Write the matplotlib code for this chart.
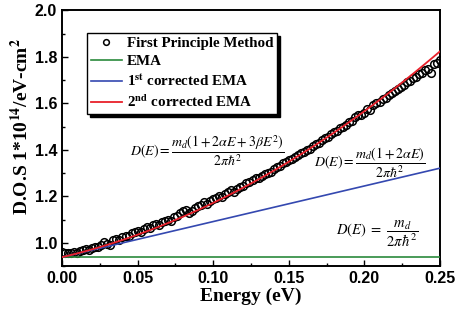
import matplotlib
matplotlib.use("Agg")
import matplotlib.pyplot as plt
import numpy as np
from matplotlib.ticker import MultipleLocator

plt.rcParams['mathtext.fontset'] = 'stix'

# Model parameters
md0 = 0.938      # EMA constant level
alpha = 0.817
beta = 2.86

energy = [0.000, 0.002, 0.004, 0.006, 0.008, 0.010, 0.012, 0.014, 0.016, 0.018,
          0.020, 0.022, 0.024, 0.026, 0.028, 0.030, 0.032, 0.034, 0.036, 0.038,
          0.040, 0.042, 0.044, 0.046, 0.048, 0.050, 0.052, 0.054, 0.056, 0.058,
          0.060, 0.062, 0.064, 0.066, 0.068, 0.070, 0.072, 0.074, 0.076, 0.078,
          0.080, 0.082, 0.084, 0.086, 0.088, 0.090, 0.092, 0.094, 0.096, 0.098,
          0.100, 0.102, 0.104, 0.106, 0.108, 0.110, 0.112, 0.114, 0.116, 0.118,
          0.120, 0.122, 0.124, 0.126, 0.128, 0.130, 0.132, 0.134, 0.136, 0.138,
          0.140, 0.142, 0.144, 0.146, 0.148, 0.150, 0.152, 0.154, 0.156, 0.158,
          0.160, 0.162, 0.164, 0.166, 0.168, 0.170, 0.172, 0.174, 0.176, 0.178,
          0.180, 0.182, 0.184, 0.186, 0.188, 0.190, 0.192, 0.194, 0.196, 0.198,
          0.200, 0.202, 0.204, 0.206, 0.208, 0.210, 0.212, 0.214, 0.216, 0.218,
          0.220, 0.222, 0.224, 0.226, 0.228, 0.230, 0.232, 0.234, 0.236, 0.238,
          0.240, 0.242, 0.244, 0.246, 0.248, 0.250]
dos_fp = [0.962, 0.958, 0.955, 0.957, 0.960, 0.958, 0.963, 0.968, 0.972, 0.970,
          0.978, 0.982, 0.980, 0.990, 1.002, 0.995, 0.992, 1.010, 1.016, 1.012,
          1.025, 1.030, 1.027, 1.040, 1.045, 1.050, 1.048, 1.060, 1.066, 1.062,
          1.075, 1.080, 1.076, 1.090, 1.093, 1.098, 1.095, 1.110, 1.116, 1.130,
          1.138, 1.140, 1.128, 1.135, 1.150, 1.158, 1.162, 1.175, 1.168, 1.180,
          1.188, 1.192, 1.200, 1.198, 1.210, 1.218, 1.225, 1.220, 1.232, 1.240,
          1.245, 1.258, 1.262, 1.270, 1.280, 1.278, 1.288, 1.296, 1.300, 1.305,
          1.318, 1.325, 1.330, 1.342, 1.348, 1.358, 1.362, 1.370, 1.378, 1.385,
          1.392, 1.400, 1.402, 1.418, 1.425, 1.428, 1.442, 1.450, 1.455, 1.470,
          1.478, 1.480, 1.495, 1.500, 1.508, 1.522, 1.525, 1.540, 1.550, 1.548,
          1.560, 1.575, 1.570, 1.592, 1.600, 1.605, 1.620, 1.622, 1.638, 1.645,
          1.652, 1.660, 1.672, 1.680, 1.690, 1.695, 1.708, 1.712, 1.725, 1.730,
          1.742, 1.750, 1.732, 1.768, 1.775, 1.785]

E = np.array(energy)
ema = np.full_like(E, md0)
ema1 = md0 * (1 + 2 * alpha * E)
ema2 = md0 * (1 + 2 * alpha * E + 3 * beta * E**2)

fig = plt.figure(figsize=(4.57, 3.15), dpi=100)
ax = fig.add_axes([0.1357, 0.1556, 0.8271, 0.8111])

ax.plot(E, dos_fp, 'o', mfc='none', mec='black', mew=1.1, ms=5.5,
        label='First Principle Method', zorder=3)
ax.plot(E, ema, color='#2a8a3c', lw=1.2, label='EMA', zorder=4)
ax.plot(E, ema1, color='#3448b0', lw=1.2, label='1$^{\\mathbf{st}}$ corrected EMA', zorder=4)
ax.plot(E, ema2, color='#e8202a', lw=1.3, label='2$^{\\mathbf{nd}}$ corrected EMA', zorder=4)

ax.set_xlim(0.0, 0.25)
ax.set_ylim(0.9, 2.0)
ax.set_xticks([0.00, 0.05, 0.10, 0.15, 0.20, 0.25])
ax.set_yticks([1.0, 1.2, 1.4, 1.6, 1.8, 2.0])
ax.xaxis.set_minor_locator(MultipleLocator(0.025))
ax.yaxis.set_minor_locator(MultipleLocator(0.1))
ax.tick_params(which='both', direction='in', width=1.0)
ax.tick_params(which='major', length=4)
ax.tick_params(which='minor', length=2.5)
for lab in ax.get_xticklabels() + ax.get_yticklabels():
    lab.set_fontfamily('Liberation Sans')
    lab.set_fontweight('bold')
    lab.set_fontsize(11.5)
for sp in ax.spines.values():
    sp.set_linewidth(1.4)

ax.set_xlabel('Energy (eV)', family='Liberation Serif', weight='bold', fontsize=14, labelpad=1)
ax.set_ylabel('D.O.S 1*10$^{\\mathbf{14}}$/eV-cm$^{\\mathbf{2}}$', family='Liberation Serif',
              weight='bold', fontsize=14)
ax.yaxis.set_label_coords(-0.078, 0.545)

leg = ax.legend(loc='upper left', bbox_to_anchor=(0.066, 0.912), borderaxespad=0,
                prop={'family': 'Liberation Serif', 'weight': 'bold', 'size': 10.8},
                frameon=True, fancybox=False, edgecolor='black',
                shadow={'color': 'black', 'alpha': 1.0},
                handlelength=2.1, handletextpad=0.3, labelspacing=0.3, borderpad=0.25,
                markerscale=0.75)
leg.get_frame().set_linewidth(1.0)

ax.text(0.385, 0.452, r'$D(E)=\dfrac{m_d(1+2\alpha E+3\beta E^2)}{2\pi\hbar^2}$',
        transform=ax.transAxes, ha='center', va='center', fontsize=10)
ax.text(0.815, 0.405, r'$D(E)=\dfrac{m_d(1+2\alpha E)}{2\pi\hbar^2}$',
        transform=ax.transAxes, ha='center', va='center', fontsize=10)
ax.text(0.835, 0.125, r'$D(E)\ =\ \dfrac{m_d}{2\pi\hbar^2}$',
        transform=ax.transAxes, ha='center', va='center', fontsize=10.5)

fig.savefig('out.png', dpi=100)
